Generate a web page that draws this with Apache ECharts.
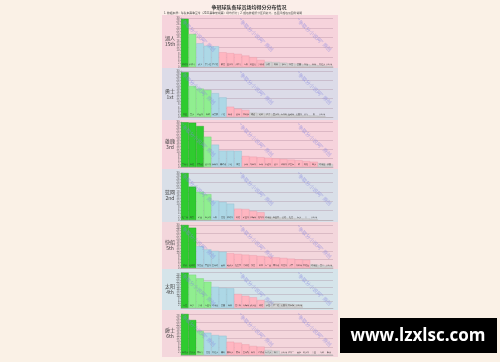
<!DOCTYPE html>
<html><head><meta charset="utf-8">
<script src="https://cdn.jsdelivr.net/npm/echarts@6/dist/echarts.min.js"></script>
<style>html,body{margin:0;padding:0;background:#faf1e6;}#c{width:500px;height:362px;}</style>
</head><body><div id="c"></div>
<script>
// ---- data ----
const title = '争冠球队各球员场均得分分布情况';
const subtitle = '1. 数据来源：球队本赛季至今（2021赛季常规赛）场均得分；2. 颜色依据得分区间划分，各区间颜色见图例说明';
const teams = ['湖人', '勇士', '雄鹿', '篮网', '快船', '太阳', '爵士'];
const teamNotes = ['15th', '1st', '3rd', '2nd', '5th', '4th', '6th'];
const yTicks = [0, 30];

const names1 = ['詹姆斯','浓眉哥','威少','安东尼','霍华德','蒙克','里弗斯','小乔丹','布朗','阿里扎','艾灵顿','贝兹','内恩','加布','图克','麦基','斯坦','怀特','奥尼尔','未出场'];
const values1 = [29.5, 20.2, 14.5, 13.0, 12.7, 9.0, 8.5, 8.0, 7.0, 6.0, 4.3, 3.2, 3.0, 2.6, 2.2, 2.0, 1.6, 1.3, 1.0, 0.8];
const tiers1 = [1, 1, 3, 6, 9];

const names2 = ['库里','普尔','维金斯','格林','汤普森','卢尼','佩顿','波特','库明加','穆迪','比耶','伊戈','查尔斯','韦斯利','温赖特','史密斯','钱奇','朗','未出场'];
const values2 = [29.2, 20.2, 18.5, 17.6, 15.5, 12.8, 6.7, 5.4, 4.6, 2.8, 2.5, 2.2, 2.0, 1.7, 1.5, 1.3, 1.1, 1.0, 0.8];
const tiers2 = [1, 3, 2, 3, 10];

const names3 = ['字母哥','米德','霍勒迪','波蒂斯','洛佩斯','康诺顿','艾伦','塔克','奈特','马修斯','卡特','赛迪斯','波蒂','拜恩斯','伊巴卡','林','内托','希尔','约翰逊','汉密'];
const values3 = [29.8, 29.5, 27.3, 20.2, 14.9, 10.9, 10.9, 10.8, 7.3, 6.9, 6.5, 6.1, 5.7, 5.3, 4.9, 4.5, 4.0, 3.5, 2.5, 2.0];
const tiers3 = [3, 1, 4, 10, 2];

const names4 = ['杜兰特','欧文','哈登','米尔斯','布朗','克拉','詹姆斯','阿德','哈里斯','沙梅特','托马斯','约翰逊','格里芬','爱德','杜克','卡尔','雷','未出场'];
const values4 = [30.0, 21.3, 18.0, 16.5, 12.3, 11.5, 10.4, 7.2, 7.0, 5.7, 5.0, 2.0, 1.8, 1.5, 1.3, 1.1, 1.0, 0.8];
const tiers4 = [2, 2, 3, 4, 7];

const names5 = ['乔治','伦纳德','杰克逊','莫里斯','巴特姆','曼恩','鲍威尔','祖巴茨','肯纳德','杰克','科菲','布兰登','博斯顿','奥克斯','小莫','斯科特','古德温','约翰逊','普雷','未出场'];
const values5 = [30.0, 28.1, 15.3, 13.0, 11.9, 11.4, 10.3, 9.8, 9.3, 8.9, 8.4, 7.9, 7.4, 7.0, 6.5, 6.0, 5.6, 2.5, 2.0, 1.5];
const tiers5 = [2, 0, 4, 11, 3];

const names6 = ['布克','保罗','艾顿','布里奇','约翰逊','麦基','佩恩','克雷格','肖梅特','威尔逊','纳德','萨拉','霍兰德','史密斯','奥卡福','未出场'];
const values6 = [30.0, 28.3, 25.2, 22.3, 18.0, 17.0, 16.7, 11.9, 10.4, 9.1, 6.8, 5.0, 4.3, 3.8, 3.4, 3.0];
const tiers6 = [1, 3, 3, 4, 5];

const names7 = ['米切尔','戈贝尔','博格丹','克拉','奥尼尔','康利','英格尔','惠特','巴特勒','帕斯','华盛顿','布泽尔','格雷','未出场','伊斯兰','曼加','阿尔斯','吉里','奇耶','新秀'];
const values7 = [30.0, 25.6, 17.6, 16.3, 14.6, 14.1, 9.7, 9.0, 7.8, 6.6, 6.1, 3.7, 3.1, 0.8, 0.6, 0.5, 0.4, 0.3, 0.3, 0.3];
const tiers7 = [2, 1, 3, 5, 9];

const panelNames = [names1, names2, names3, names4, names5, names6, names7];
const panelValues = [values1, values2, values3, values4, values5, values6, values7];
const panelTiers = [tiers1, tiers2, tiers3, tiers4, tiers5, tiers6, tiers7];

// ---- layout / style ----
const tierColors = ['#2fcb2f', '#90ee90', '#add8e6', '#ffb6c1', '#d3d3d3'];
const tierBorders = ['#1fa51f', '#74cf74', '#8fbdd0', '#e99aa8', '#b8b8b8'];
const plotSpan = [[18, 67], [71, 117], [122, 167], [173, 220], [225, 268], [272.7, 308], [314, 355]];
const bands = [[15, 68], [68, 120], [120, 169], [169, 222], [222, 269], [269, 310], [310, 357]];
const bandColors = ['#f6d3dc', '#dcdbe8', '#f6d3dc', '#d9dfe8', '#f3d6dc', '#d5e4ea', '#f4d6dc'];
const NCAT = 20;
const gridLeft = 181, gridWidth = 152;

const chart = echarts.init(document.getElementById('c'), null, {renderer: 'canvas'});

const grids = [], xAxes = [], yAxes = [], series = [], graphics = [];

graphics.push({type: 'rect', shape: {x: 160, y: 0, width: 180, height: 360}, style: {fill: '#fbeee9'}, z: -10});
bands.forEach((b, i) => {
  graphics.push({type: 'rect', shape: {x: 162, y: b[0], width: 176, height: b[1] - b[0]}, style: {fill: bandColors[i]}, z: -9});
  const mid = (b[0] + b[1]) / 2;
  graphics.push({type: 'text', x: 170, y: mid, style: {text: teams[i] + '\n' + teamNotes[i], fill: '#444', font: '5px "Noto Sans CJK SC"', align: 'center', verticalAlign: 'middle', lineHeight: 6}, z: 5});
  [198, 256, 314].forEach(x => {
    graphics.push({type: 'text', x: x, y: b[0] + 20, rotation: -0.75, style: {text: '"争取分小说网" 原创', fill: 'rgba(130,130,225,0.6)', font: '5px "Noto Sans CJK SC"', align: 'center', verticalAlign: 'middle'}, z: 20});
  });
});
graphics.push({type: 'text', x: 249, y: 7, style: {text: title, fill: '#333', font: 'bold 5px "Noto Sans CJK SC"', align: 'center', verticalAlign: 'middle'}, z: 5});
graphics.push({type: 'text', x: 164, y: 13, style: {text: subtitle, fill: '#444', font: '2.8px "Noto Sans CJK SC"', align: 'left', verticalAlign: 'middle'}, z: 5});
graphics.push({type: 'rect', shape: {x: 340, y: 318, width: 157, height: 35}, style: {fill: '#000'}, z: 30});
graphics.push({type: 'text', x: 418, y: 336, style: {text: 'www.lzxlsc.com', fill: '#fff', font: 'bold 17px "Open Sans"', align: 'center', verticalAlign: 'middle'}, z: 31});

panelValues.forEach((vals, i) => {
  const [top, zero] = plotSpan[i];
  grids.push({left: gridLeft, width: gridWidth, top: top, height: zero - top, containLabel: false, outerBoundsMode: 'none'});
  const cats = panelNames[i].slice();
  while (cats.length < NCAT) cats.push('');
  xAxes.push({type: 'category', gridIndex: i, data: cats, axisLine: {show: true, lineStyle: {color: '#aaa', width: 0.5}}, axisTick: {show: false}, axisLabel: {show: false}});
  yAxes.push({type: 'value', gridIndex: i, min: yTicks[0], max: yTicks[1], interval: 2,
    axisLine: {show: true, lineStyle: {color: '#999', width: 0.5}}, axisTick: {show: true, length: 1, lineStyle: {color: '#999', width: 0.5}},
    axisLabel: {fontSize: 2.6, color: '#555', margin: 1.5}, splitLine: {show: false}});
  yAxes.push({type: 'value', gridIndex: i, min: yTicks[0], max: yTicks[1], interval: 6, position: 'left',
    axisLine: {show: false}, axisTick: {show: false}, axisLabel: {show: false},
    splitLine: {show: true, lineStyle: {color: 'rgba(150,110,130,0.45)', width: 0.6}}});
  const tiers = panelTiers[i];
  const colorIdx = [];
  tiers.forEach((n, t) => { for (let k = 0; k < n; k++) colorIdx.push(t); });
  const data = vals.map((v, k) => ({value: v, itemStyle: {color: tierColors[colorIdx[k]], borderColor: tierBorders[colorIdx[k]], borderWidth: 0.4}}));
  series.push({type: 'bar', xAxisIndex: i, yAxisIndex: 2 * i, data: data, barCategoryGap: '0%', barGap: '0%', silent: true, animation: false,
    label: {show: true, position: 'insideBottom', distance: 1.5, formatter: p => p.name, fontSize: 2.4, lineHeight: 2.8, width: 6, overflow: 'breakAll', color: '#333'}});
});

chart.setOption({
  animation: false,
  backgroundColor: '#faf1e6',
  grid: grids, xAxis: xAxes, yAxis: yAxes, series: series,
  graphic: {elements: graphics}
});
</script></body></html>
